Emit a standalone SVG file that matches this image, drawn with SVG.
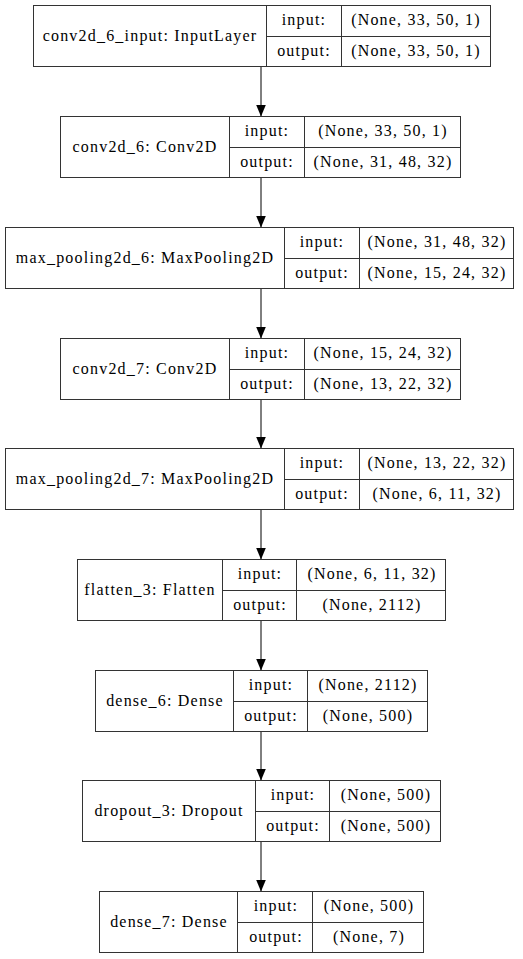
<svg xmlns="http://www.w3.org/2000/svg" width="523" height="959" viewBox="0 0 523 959">
<style>
rect.b{fill:#fff;stroke:#333;stroke-width:1}
line.d{stroke:#333;stroke-width:1}
text{font-family:'Liberation Serif','Times New Roman',serif;font-size:16px;letter-spacing:1.2px;text-anchor:middle;fill:#000}
.e{stroke:#000;stroke-width:1;fill:none}
</style>
<defs>
<marker id="ah" viewBox="0 0 12 10" refX="12" refY="5" markerWidth="12" markerHeight="10" markerUnits="userSpaceOnUse" orient="auto">
<path d="M0,0 L12,5 L0,10 z" fill="#000"/>
</marker>
</defs>
<rect width="523" height="959" fill="#fff"/>
<g id="edges">
<line class="e" x1="261" y1="66.5" x2="261" y2="116.5" marker-end="url(#ah)"/>
<line class="e" x1="261" y1="177.5" x2="261" y2="227.5" marker-end="url(#ah)"/>
<line class="e" x1="261" y1="288.5" x2="261" y2="338.5" marker-end="url(#ah)"/>
<line class="e" x1="261" y1="399.5" x2="261" y2="448.5" marker-end="url(#ah)"/>
<line class="e" x1="261" y1="509.5" x2="261" y2="559.5" marker-end="url(#ah)"/>
<line class="e" x1="261" y1="620.5" x2="261" y2="670.5" marker-end="url(#ah)"/>
<line class="e" x1="261" y1="731.5" x2="261" y2="780.5" marker-end="url(#ah)"/>
<line class="e" x1="261" y1="841.5" x2="261" y2="891.5" marker-end="url(#ah)"/>
</g>
<g id="n1">
<rect class="b" x="33.5" y="5.5" width="457" height="61"/>
<line class="d" x1="266.5" y1="5.5" x2="266.5" y2="66.5"/>
<line class="d" x1="341.5" y1="5.5" x2="341.5" y2="66.5"/>
<line class="d" x1="266.5" y1="36.5" x2="490.5" y2="36.5"/>
<text x="150" y="41">conv2d_6_input: InputLayer</text>
<text x="304" y="25">input:</text>
<text x="304" y="56">output:</text>
<text x="416" y="25">(None, 33, 50, 1)</text>
<text x="416" y="56">(None, 33, 50, 1)</text>
</g>
<g id="n2">
<rect class="b" x="60.5" y="116.5" width="400" height="61"/>
<line class="d" x1="229.5" y1="116.5" x2="229.5" y2="177.5"/>
<line class="d" x1="304.5" y1="116.5" x2="304.5" y2="177.5"/>
<line class="d" x1="229.5" y1="147.5" x2="460.5" y2="147.5"/>
<text x="145" y="152">conv2d_6: Conv2D</text>
<text x="267" y="136">input:</text>
<text x="267" y="167">output:</text>
<text x="383" y="136">(None, 33, 50, 1)</text>
<text x="383" y="167">(None, 31, 48, 32)</text>
</g>
<g id="n3">
<rect class="b" x="5.5" y="227.5" width="508" height="61"/>
<line class="d" x1="284.5" y1="227.5" x2="284.5" y2="288.5"/>
<line class="d" x1="359.5" y1="227.5" x2="359.5" y2="288.5"/>
<line class="d" x1="284.5" y1="258.5" x2="513.5" y2="258.5"/>
<text x="145" y="263">max_pooling2d_6: MaxPooling2D</text>
<text x="322" y="247">input:</text>
<text x="322" y="278">output:</text>
<text x="437" y="247">(None, 31, 48, 32)</text>
<text x="437" y="278">(None, 15, 24, 32)</text>
</g>
<g id="n4">
<rect class="b" x="60.5" y="338.5" width="400" height="61"/>
<line class="d" x1="229.5" y1="338.5" x2="229.5" y2="399.5"/>
<line class="d" x1="304.5" y1="338.5" x2="304.5" y2="399.5"/>
<line class="d" x1="229.5" y1="369.5" x2="460.5" y2="369.5"/>
<text x="145" y="374">conv2d_7: Conv2D</text>
<text x="267" y="358">input:</text>
<text x="267" y="389">output:</text>
<text x="383" y="358">(None, 15, 24, 32)</text>
<text x="383" y="389">(None, 13, 22, 32)</text>
</g>
<g id="n5">
<rect class="b" x="5.5" y="448.5" width="508" height="61"/>
<line class="d" x1="284.5" y1="448.5" x2="284.5" y2="509.5"/>
<line class="d" x1="359.5" y1="448.5" x2="359.5" y2="509.5"/>
<line class="d" x1="284.5" y1="479.5" x2="513.5" y2="479.5"/>
<text x="145" y="484">max_pooling2d_7: MaxPooling2D</text>
<text x="322" y="468">input:</text>
<text x="322" y="499">output:</text>
<text x="437" y="468">(None, 13, 22, 32)</text>
<text x="437" y="499">(None, 6, 11, 32)</text>
</g>
<g id="n6">
<rect class="b" x="77.5" y="559.5" width="368" height="61"/>
<line class="d" x1="222.5" y1="559.5" x2="222.5" y2="620.5"/>
<line class="d" x1="296.5" y1="559.5" x2="296.5" y2="620.5"/>
<line class="d" x1="222.5" y1="590.5" x2="445.5" y2="590.5"/>
<text x="150" y="595">flatten_3: Flatten</text>
<text x="260" y="579">input:</text>
<text x="260" y="610">output:</text>
<text x="372" y="579">(None, 6, 11, 32)</text>
<text x="372" y="610">(None, 2112)</text>
</g>
<g id="n7">
<rect class="b" x="95.5" y="670.5" width="332" height="61"/>
<line class="d" x1="233.5" y1="670.5" x2="233.5" y2="731.5"/>
<line class="d" x1="307.5" y1="670.5" x2="307.5" y2="731.5"/>
<line class="d" x1="233.5" y1="701.5" x2="427.5" y2="701.5"/>
<text x="165" y="706">dense_6: Dense</text>
<text x="271" y="690">input:</text>
<text x="271" y="721">output:</text>
<text x="368" y="690">(None, 2112)</text>
<text x="368" y="721">(None, 500)</text>
</g>
<g id="n8">
<rect class="b" x="82.5" y="780.5" width="358" height="61"/>
<line class="d" x1="255.5" y1="780.5" x2="255.5" y2="841.5"/>
<line class="d" x1="329.5" y1="780.5" x2="329.5" y2="841.5"/>
<line class="d" x1="255.5" y1="811.5" x2="440.5" y2="811.5"/>
<text x="169" y="816">dropout_3: Dropout</text>
<text x="293" y="800">input:</text>
<text x="293" y="831">output:</text>
<text x="386" y="800">(None, 500)</text>
<text x="386" y="831">(None, 500)</text>
</g>
<g id="n9">
<rect class="b" x="99.5" y="891.5" width="324" height="61"/>
<line class="d" x1="237.5" y1="891.5" x2="237.5" y2="952.5"/>
<line class="d" x1="312.5" y1="891.5" x2="312.5" y2="952.5"/>
<line class="d" x1="237.5" y1="922.5" x2="423.5" y2="922.5"/>
<text x="169" y="927">dense_7: Dense</text>
<text x="276" y="911">input:</text>
<text x="276" y="942">output:</text>
<text x="369" y="911">(None, 500)</text>
<text x="369" y="942">(None, 7)</text>
</g>
</svg>
